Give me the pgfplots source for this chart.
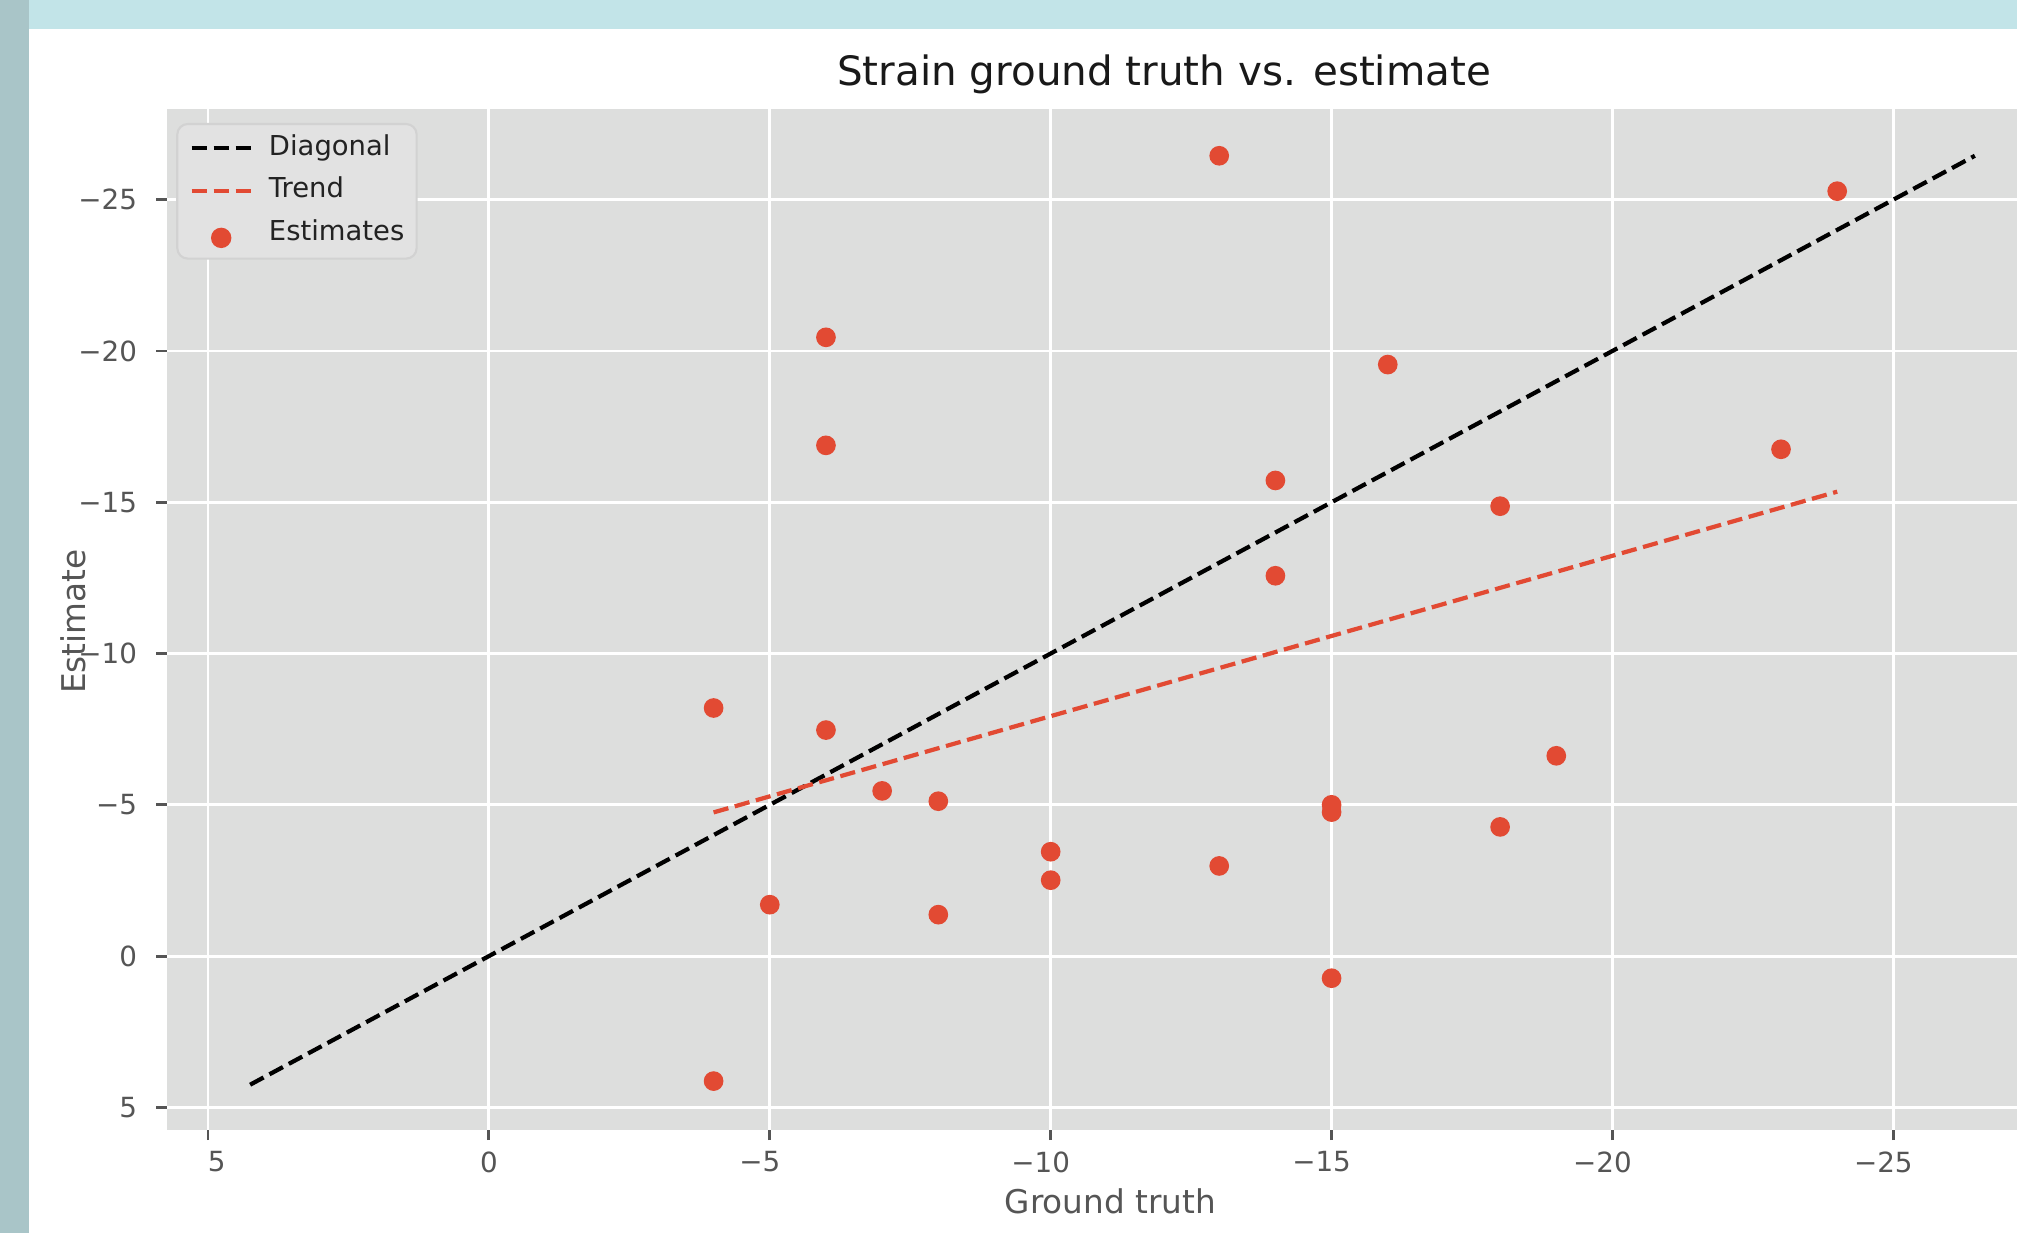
\documentclass[border=0pt]{standalone}
\usepackage{pgfplots}
\pgfplotsset{compat=1.18}
\usepackage{fontspec}
\setmainfont{DejaVu Sans}
\definecolor{bgax}{HTML}{DDDEDD}
\definecolor{ored}{HTML}{E24A33}
\definecolor{tickgray}{HTML}{555555}
\definecolor{topstrip}{HTML}{C2E4E8}
\definecolor{leftstrip}{HTML}{A9C5C8}
\definecolor{legfill}{HTML}{E2E2E2}
\definecolor{legdraw}{HTML}{D2D2D2}
\definecolor{legtext}{HTML}{222222}
\pgfplotsset{
  lineleg/.style={legend image code/.code={\draw[##1] (0cm,0pt) -- (0.59cm,0pt);}},
  dotleg/.style={legend image code/.code={\fill[ored] (0.295cm,-1.3pt) circle (2.6pt);}},
}
\pgfplotstableread{
x y
-13 -26.45
-24 -25.28
-6 -20.45
-16 -19.55
-6 -16.88
-23 -16.75
-14 -15.72
-18 -14.87
-14 -12.57
-4 -8.2
-6 -7.47
-19 -6.62
-7 -5.46
-8 -5.12
-15 -5.0
-15 -4.76
-18 -4.27
-10 -3.45
-10 -2.51
-13 -2.98
-5 -1.7
-8 -1.37
-15 0.73
-4 4.13
}\estimates
\begin{document}
\begin{tikzpicture}
\useasboundingbox (0,0) rectangle (20.17cm,12.33cm);
\fill[white] (0,0) rectangle (20.17cm,12.33cm);
\fill[topstrip] (0,12.04cm) rectangle (20.17cm,12.33cm);
\fill[leftstrip] (0,0) rectangle (0.29cm,12.33cm);
\begin{axis}[
  at={(1.67cm,1.035cm)}, anchor=south west,
  width=18.5cm, height=10.2cm, scale only axis,
  x dir=reverse, y dir=reverse,
  xmin=-27.2, xmax=5.73, ymin=-27.98, ymax=5.73,
  axis background/.style={fill=bgax},
  axis line style={draw=none},
  grid=major, major grid style={white, line width=0.8pt},
  tick align=outside, tick pos=left,
  major tick length=3pt,
  every tick/.style={color=tickgray, line width=0.8pt},
  major tick style={color=tickgray, line width=0.8pt},
  xtick={-25,-20,-15,-10,-5,0,5},
  xticklabels={−25,−20,−15,−10,−5,\hspace{5.7pt}0,\hspace{10.7pt}5},
  ytick={-25,-20,-15,-10,-5,0,5},
  yticklabels={−25,−20,−15,−10,−5,0,5},
  ticklabel style={font=\fontsize{7.9}{9}\selectfont, text=tickgray},
  xticklabel style={yshift=0.3pt, xshift=-2.85pt},
  yticklabel style={xshift=-2.0pt},
  title={Strain ground truth vs. estimate},
  xlabel={Ground truth},
  ylabel={Estimate},
  every axis title/.style={at={(axis description cs:0.539,1.0238)}, anchor=base, font=\fontsize{11.5}{13}\selectfont, text=black!90},
  every axis x label/.style={at={(axis description cs:0.510,-0.0819)}, anchor=base, font=\fontsize{9.3}{11}\selectfont, text=tickgray},
  every axis y label/.style={at={(axis description cs:-0.0443,0.498)}, anchor=base, rotate=90, font=\fontsize{9.3}{11}\selectfont, text=tickgray},
  legend style={at={(0.005,0.9868)}, anchor=north west, fill=legfill, draw=legdraw, line width=0.6pt, rounded corners=3pt,
    font=\fontsize{7.8}{9}\selectfont, text=legtext, inner xsep=3.5pt, inner ysep=3pt, row sep=4.3pt,
    nodes={inner sep=0pt, text height=5.9pt, text depth=1.9pt},
    /tikz/every odd column/.style={column sep=4.6pt}},
  legend cell align=left,
]
\addplot[black, line width=1.2pt, dash pattern=on 4.35pt off 1.9pt, lineleg]
  coordinates {(4.25,4.25) (-26.45,-26.45)};
\addlegendentry{Diagonal}
\addplot[ored, line width=1.2pt, dash pattern=on 4.35pt off 1.9pt, lineleg]
  coordinates {(-4,-4.75) (-24,-15.35)};
\addlegendentry{Trend}
\addplot[only marks, mark=*, mark size=2.6pt, color=ored, mark options={fill=ored, draw=ored}, dotleg]
  table[x=x, y=y] {\estimates};
\addlegendentry{Estimates}
\end{axis}
\end{tikzpicture}
\end{document}
